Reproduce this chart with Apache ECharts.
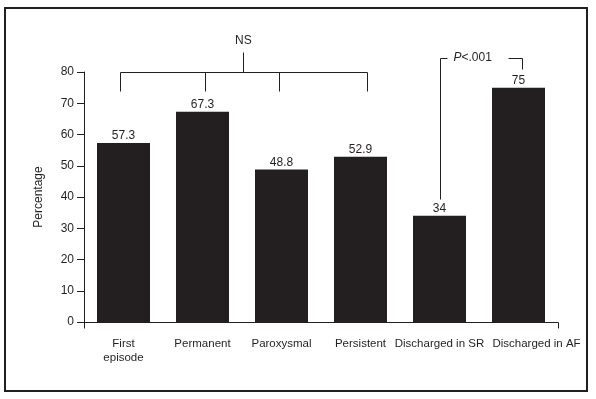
<!DOCTYPE html>
<html>
<head>
<meta charset="utf-8">
<script src="https://cdn.jsdelivr.net/npm/echarts@6/dist/echarts.min.js"></script>
<style>
html,body{margin:0;padding:0;background:#fff;}
#main{width:596px;height:399px;}
</style>
</head>
<body>
<div id="main"></div>
<script>
var categories = ['First\nepisode', 'Permanent', 'Paroxysmal', 'Persistent', 'Discharged in SR', 'Discharged in AF'];
var values = [57.3, 67.3, 48.8, 52.9, 34, 75];
var yTicks = [0, 10, 20, 30, 40, 50, 60, 70, 80];
var nsLabel = 'NS';
var pLabel = '.001';

var INK = '#231f20';
var FONT = '"Liberation Sans", Arial, sans-serif';
var FS = 12;

var chart = echarts.init(document.getElementById('main'), null, {renderer: 'canvas'});

var catData = categories.map(function (c, i) {
  if (i === categories.length - 1) {
    return {value: c, textStyle: {padding: [0, 0, 0, 36]}};
  }
  return c;
});

chart.setOption({
  animation: false,
  backgroundColor: '#fff',
  textStyle: {fontFamily: FONT, color: INK},
  grid: {left: 84, right: 38, top: 72, bottom: 77, containLabel: false},
  xAxis: {
    type: 'category',
    data: catData,
    axisLine: {lineStyle: {color: INK, width: 1}},
    axisTick: {show: false},
    axisLabel: {color: INK, fontFamily: FONT, fontSize: 11.5, margin: 15, lineHeight: 14, interval: 0}
  },
  yAxis: {
    type: 'value',
    min: yTicks[0],
    max: yTicks[yTicks.length - 1],
    interval: 10,
    name: 'Percentage',
    nameLocation: 'middle',
    nameRotate: 90,
    nameGap: 39,
    nameTextStyle: {color: INK, fontFamily: FONT, fontSize: FS},
    axisLine: {show: true, lineStyle: {color: INK, width: 1}},
    axisTick: {show: true, inside: false, length: 7, lineStyle: {color: INK, width: 1}},
    axisLabel: {color: INK, fontFamily: FONT, fontSize: FS, margin: 10},
    splitLine: {show: false}
  },
  series: [{
    type: 'bar',
    data: values,
    barWidth: 53,
    itemStyle: {color: INK},
    label: {
      show: true,
      position: 'top',
      distance: 1,
      color: INK,
      fontFamily: FONT,
      fontSize: FS,
      formatter: function (p) { return String(p.value); }
    }
  }]
});

// pixel position at fractional category index c and value v
var p0 = chart.convertToPixel({gridIndex: 0}, [0, 0]);
var p1 = chart.convertToPixel({gridIndex: 0}, [1, 0]);
var band = p1[0] - p0[0];
function px(c, v) {
  var y = chart.convertToPixel({gridIndex: 0}, [0, v])[1];
  return [p0[0] + c * band, y];
}

function seg(a, b) {
  return {type: 'line', shape: {x1: Math.round(a[0]) + 0.5, y1: Math.round(a[1]) + 0.5, x2: Math.round(b[0]) + 0.5, y2: Math.round(b[1]) + 0.5},
          style: {stroke: INK, lineWidth: 1}, silent: true};
}

var g = [];
// outer frame
g.push({type: 'rect', shape: {x: 5, y: 8, width: 582, height: 383}, style: {fill: 'none', stroke: INK, lineWidth: 2}, silent: true});

// axis end ticks (downward)
var o0 = px(-0.5, 0), o1 = px(5.5, 0);
g.push(seg([o0[0], o0[1]], [o0[0], o0[1] + 6]));
g.push(seg([o1[0], o1[1]], [o1[0], o1[1] + 6]));

// NS bracket over first four groups
var nsLegs = [-0.045, 1.03, 1.97, 3.08];
var nsTop = px(0, 80)[1], nsLegEnd = px(0, 74)[1];
var l0 = px(nsLegs[0], 80), l3 = px(nsLegs[3], 80);
g.push(seg([l0[0], nsTop], [l3[0], nsTop]));
nsLegs.forEach(function (c) { var p = px(c, 80); g.push(seg([p[0], nsTop], [p[0], nsLegEnd])); });
var nsMid = (l0[0] + l3[0]) / 2;
g.push(seg([nsMid, nsTop], [nsMid, px(0, 86.5)[1]]));
g.push({type: 'text', x: nsMid, y: px(0, 90)[1], style: {text: nsLabel, fill: INK, font: FS + 'px ' + FONT, textAlign: 'center', textVerticalAlign: 'middle'}, silent: true});

// P bracket between SR and AF
var pTop = px(4, 84.5)[1];
var pl = px(4, 39.5), pr = px(5.04, 81);
g.push(seg([pl[0], pTop], [pl[0], pl[1]]));
g.push(seg([pr[0], pTop], [pr[0], pr[1]]));
g.push(seg([pl[0], pTop], [pl[0] + 7, pTop]));
g.push(seg([pr[0] - 14, pTop], [pr[0], pTop]));
g.push({type: 'text', x: pl[0] + 14, y: pTop, style: {
  text: '{i|P}<' + pLabel,
  rich: {i: {fontStyle: 'italic', fontFamily: FONT, fontSize: FS, fill: INK}},
  fill: INK, font: FS + 'px ' + FONT, textAlign: 'left', textVerticalAlign: 'middle'}, silent: true});

chart.setOption({graphic: {elements: g}});
</script>
</body>
</html>
